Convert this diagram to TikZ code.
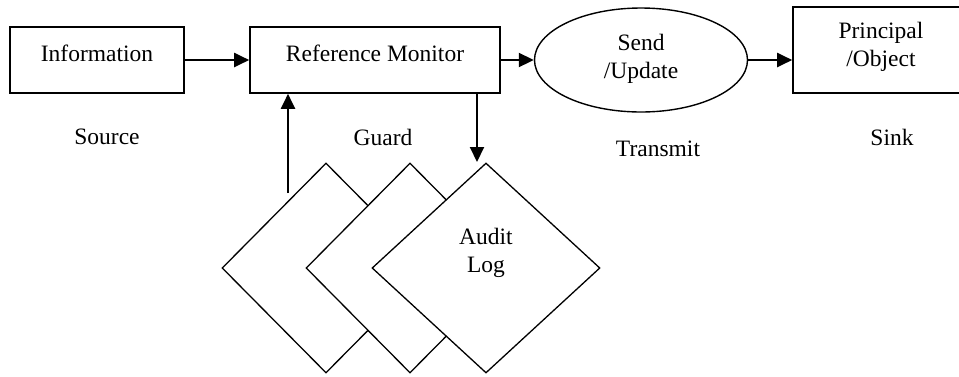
\documentclass[tikz,border=0pt]{standalone}
\usepackage{fontspec}
\setmainfont{Liberation Serif}
\usetikzlibrary{shapes.geometric,arrows.meta}
\begin{document}
\begin{tikzpicture}[x=1pt,y=-1pt,
  every node/.style={font=\fontsize{23.5}{28}\selectfont, inner sep=0pt},
  boxnode/.style={draw, line width=1.6pt, rectangle},
  ellnode/.style={draw, line width=1.4pt, ellipse},
  dia/.style={draw, line width=1.3pt, diamond, fill=white},
  txt/.style={align=center},
  arr/.style={line width=2pt, -{Triangle[length=15pt,width=14pt]}}]
\useasboundingbox (0,0) rectangle (959,376);
% boxes
\node[boxnode, minimum width=174pt, minimum height=66pt] (info) at (97,60) {};
\node[txt] (infot) at (97,53) {Information};
\node[boxnode, minimum width=250pt, minimum height=66pt] (rm) at (375,60) {};
\node[txt] (rmt) at (375,53) {Reference Monitor};
\node[ellnode, minimum width=213pt, minimum height=104pt] (send) at (641,60) {};
\node[txt] (sendt) at (641,59) {Send\\/Update};
\node[boxnode, minimum width=170pt, minimum height=86pt] (prin) at (878,50) {};
\node[txt] (print) at (881,47) {Principal\\/Object};
% labels
\node (source) at (107,137) {Source};
\node (guard) at (383,137) {Guard};
\node (transmit) at (658,149) {Transmit};
\node (sink) at (892,137) {Sink};
% diamonds
\node[dia, minimum width=208pt, minimum height=210pt] (d1) at (326,268) {};
\node[dia, minimum width=208pt, minimum height=210pt] (d2) at (410,268) {};
\node[dia, minimum width=228pt, minimum height=210pt] (d3) at (486,268) {};
\node[txt] (audit) at (486,253) {Audit\\Log};
% connectors
\draw[arr] (info.east) -- (rm.west);
\draw[arr] (rm.east) -- (send.west);
\draw[arr] (send.east) -- (send.east -| prin.west);
\coordinate (upstart) at (288,193);
\draw[arr] (upstart) -- (upstart |- rm.south);
\coordinate (dnend) at (477,162);
\draw[arr] (dnend |- rm.south) -- (dnend);
\end{tikzpicture}
\end{document}
